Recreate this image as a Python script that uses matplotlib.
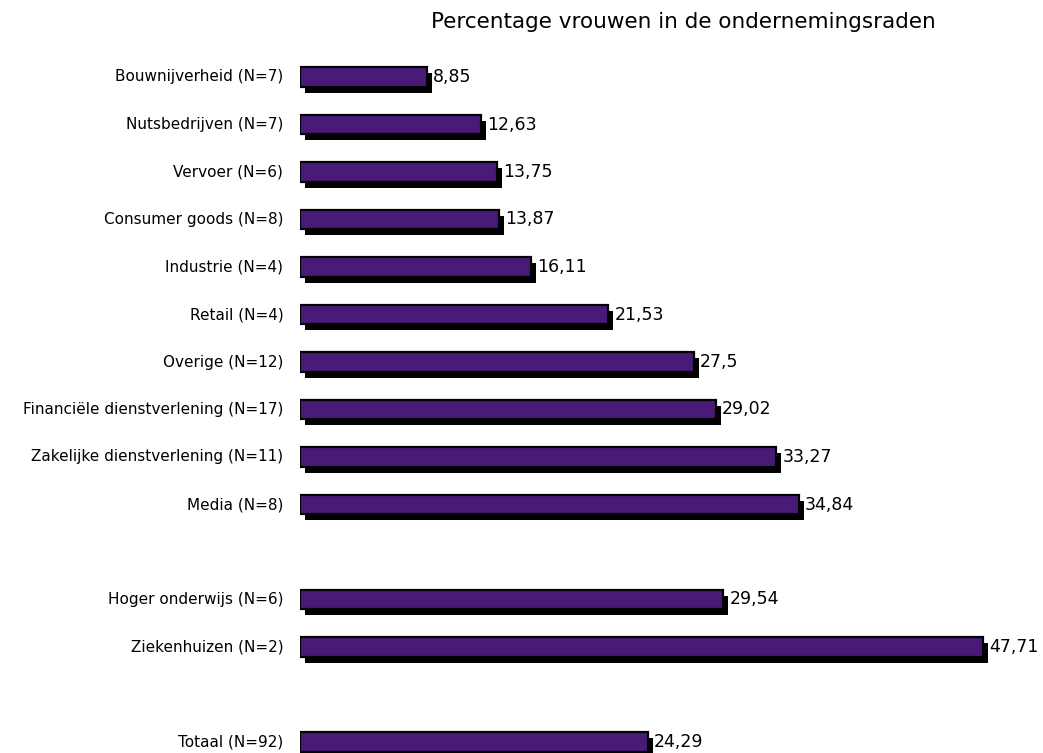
import numpy as np
import matplotlib
matplotlib.use("Agg")
import matplotlib.pyplot as plt
import matplotlib.transforms as mtransforms

plt.rcParams["font.family"] = ["DejaVu Sans"]

categories = [
    "Bouwnijverheid (N=7)",
    "Nutsbedrijven (N=7)",
    "Vervoer (N=6)",
    "Consumer goods (N=8)",
    "Industrie (N=4)",
    "Retail (N=4)",
    "Overige (N=12)",
    "Financiële dienstverlening (N=17)",
    "Zakelijke dienstverlening (N=11)",
    "Media (N=8)",
    "Hoger onderwijs (N=6)",
    "Ziekenhuizen (N=2)",
    "Totaal (N=92)",
]
values = [8.85, 12.63, 13.75, 13.87, 16.11, 21.53, 27.5, 29.02, 33.27, 34.84,
          29.54, 47.71, 24.29]
value_labels = ["8,85", "12,63", "13,75", "13,87", "16,11", "21,53", "27,5",
                "29,02", "33,27", "34,84", "29,54", "47,71", "24,29"]
# row slots, with gaps between the groups
slots = [0, 1, 2, 3, 4, 5, 6, 7, 8, 9, 11, 12, 14]

fig = plt.figure(figsize=(10.43, 7.53), dpi=100)
ax = fig.add_axes([300 / 1043, 0, 743 / 1043, 1])

bar_h = 0.42
purple = "#4a1a78"

# drop shadow, shifted right and down
shadow = ax.transData + mtransforms.ScaledTranslation(5 / 100, -6 / 100, fig.dpi_scale_trans)
ax.barh(slots, values, height=bar_h, left=0, color="black",
        transform=shadow, zorder=1)
ax.barh(slots, values, height=bar_h, left=0, color=purple,
        edgecolor="black", linewidth=1.6, zorder=2)

for y, v, lab in zip(slots, values, value_labels):
    ax.annotate(lab, (v, y), xytext=(4.5, 0), textcoords="offset points",
                va="center", ha="left", fontsize=12.5, zorder=3)

for y, cat in zip(slots, categories):
    ax.annotate(cat, (0, y), xytext=(-12, 0), textcoords="offset points",
                va="center", ha="right", fontsize=11,
                annotation_clip=False)

ax.set_xlim(0, 743 / 14.32)
ax.set_ylim(14 + 11 / 47.5, -77 / 47.5)
ax.axis("off")

fig.text(683 / 1043, 1 - 22 / 753, "Percentage vrouwen in de ondernemingsraden",
         ha="center", va="center", fontsize=15.5)

fig.savefig("out.png", dpi=100)
plt.close(fig)
